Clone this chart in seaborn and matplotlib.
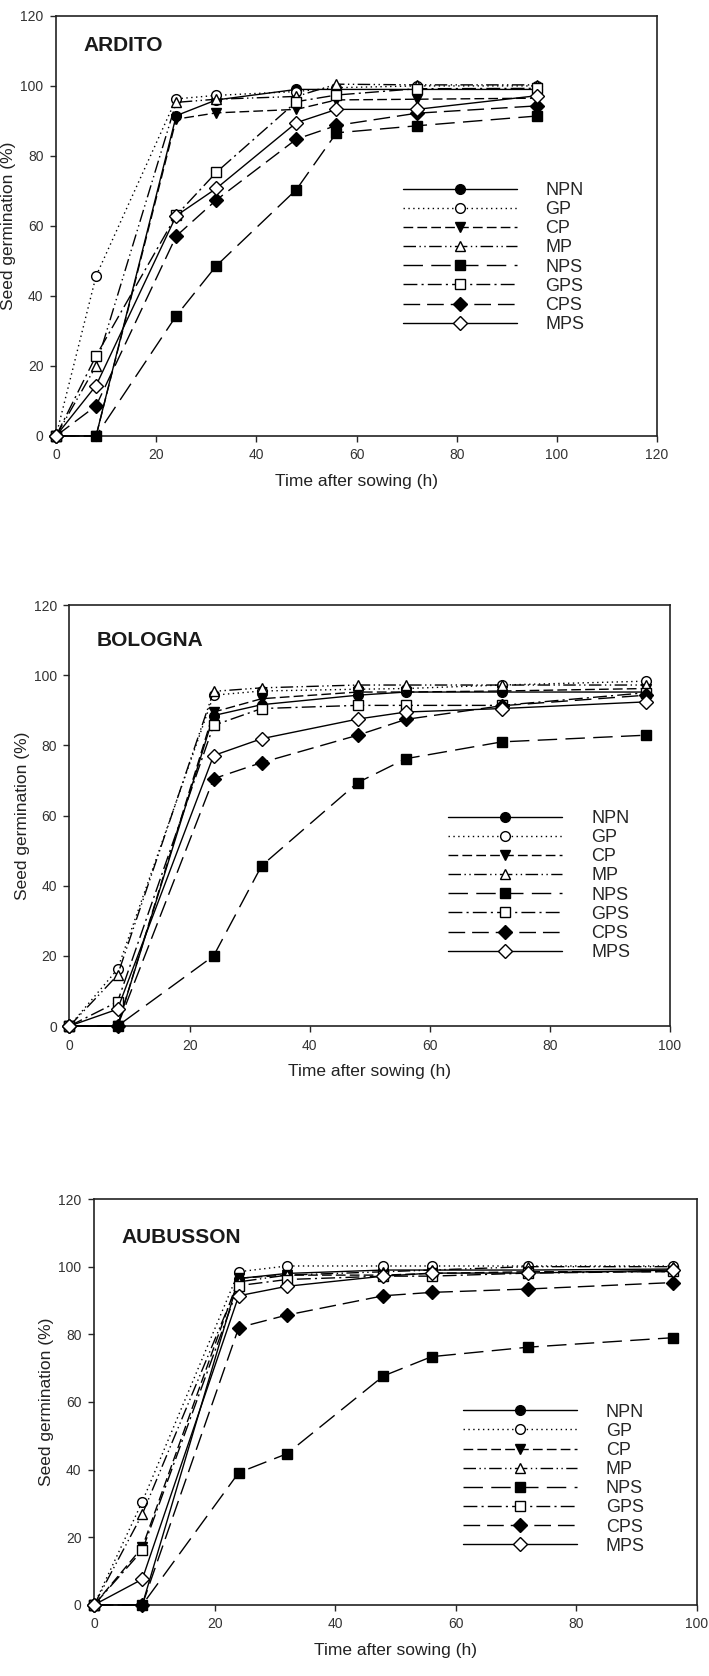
import matplotlib
matplotlib.use("Agg")
import matplotlib.pyplot as plt
import seaborn as sns
import pandas as pd

# sampling times (h)
hours = [0, 8, 24, 32, 48, 56, 72, 96]
treatments = ["NPN", "GP", "CP", "MP", "NPS", "GPS", "CPS", "MPS"]

# seed germination (%) per cultivar
ardito = {
    "NPN": [0, 0, 91.5, 96.0, 99.0, 99.0, 99.0, 99.0],
    "GP":  [0, 45.7, 96.3, 97.3, 98.4, 99.5, 100.0, 100.0],
    "CP":  [0, 0, 90.5, 92.3, 93.3, 96.0, 96.2, 96.5],
    "MP":  [0, 20.0, 95.3, 96.2, 97.0, 100.5, 100.3, 100.3],
    "NPS": [0, 0, 34.3, 48.6, 70.4, 86.6, 88.6, 91.4],
    "GPS": [0, 22.9, 63.0, 75.3, 95.5, 97.4, 99.2, 99.3],
    "CPS": [0, 8.6, 57.1, 67.4, 84.8, 88.7, 92.2, 94.3],
    "MPS": [0, 14.4, 62.9, 70.7, 89.5, 93.3, 93.3, 97.2],
}
bologna = {
    "NPN": [0, 0, 88.5, 91.6, 94.3, 95.2, 95.2, 95.2],
    "GP":  [0, 16.2, 94.3, 95.5, 96.0, 96.2, 97.2, 98.3],
    "CP":  [0, 0, 89.5, 93.3, 95.2, 95.2, 95.5, 96.2],
    "MP":  [0, 14.5, 95.4, 96.4, 97.2, 97.2, 97.2, 97.2],
    "NPS": [0, 0, 20.0, 45.7, 69.4, 76.2, 81.0, 82.9],
    "GPS": [0, 6.9, 85.7, 90.5, 91.4, 91.4, 91.4, 95.0],
    "CPS": [0, 0, 70.5, 75.1, 82.9, 87.4, 91.3, 94.3],
    "MPS": [0, 4.8, 77.1, 81.9, 87.5, 89.5, 90.5, 92.4],
}
aubusson = {
    "NPN": [0, 0, 96.5, 98.0, 99.0, 99.0, 99.0, 99.3],
    "GP":  [0, 30.5, 98.5, 100.2, 100.2, 100.2, 100.2, 100.2],
    "CP":  [0, 17.0, 96.6, 97.5, 97.5, 98.0, 98.5, 98.5],
    "MP":  [0, 26.8, 95.5, 97.5, 98.5, 99.0, 100.0, 100.0],
    "NPS": [0, 0, 39.1, 44.7, 67.7, 73.4, 76.2, 79.0],
    "GPS": [0, 16.1, 94.4, 96.2, 97.2, 97.2, 98.1, 98.6],
    "CPS": [0, 0, 82.0, 85.7, 91.4, 92.4, 93.4, 95.3],
    "MPS": [0, 7.6, 91.4, 94.2, 97.2, 98.1, 98.1, 99.0],
}

# marker / fill / dash style per treatment
styles = {
    "NPN": dict(marker="o", mfc="black", ls="-"),
    "GP":  dict(marker="o", mfc="white", ls=(0, (1, 2.5))),
    "CP":  dict(marker="v", mfc="black", ls=(0, (7, 3))),
    "MP":  dict(marker="^", mfc="white", ls=(0, (9, 2.5, 1, 2.5, 1, 2.5))),
    "NPS": dict(marker="s", mfc="black", ls=(0, (14, 6))),
    "GPS": dict(marker="s", mfc="white", ls=(0, (10, 3, 1.5, 3))),
    "CPS": dict(marker="D", mfc="black", ls=(0, (12, 5))),
    "MPS": dict(marker="D", mfc="white", ls="-"),
}

sns.set_style("ticks")
plt.rcParams["font.family"] = ["Liberation Sans", "DejaVu Sans"]

fig = plt.figure(figsize=(7.09, 16.76), dpi=100)

# name, data, axes rect, x max, legend anchor (center left), title y
panels = [
    ("ARDITO", ardito, [0.079, 0.7399, 0.8477, 0.2506], 120, (0.565, 0.425), 0.929),
    ("BOLOGNA", bologna, [0.098, 0.3878, 0.847, 0.2512], 100, (0.619, 0.334), 0.915),
    ("AUBUSSON", aubusson, [0.1326, 0.0424, 0.8505, 0.2422], 100, (0.60, 0.31), 0.906),
]

for name, data, rect, xmax, leg_pos, title_y in panels:
    ax = fig.add_axes(rect)
    for t in treatments:
        df = pd.DataFrame({"h": hours, "g": data[t]})
        st = styles[t]
        sns.lineplot(data=df, x="h", y="g", ax=ax, color="black", lw=1.0,
                     linestyle=st["ls"], marker=st["marker"], markersize=7,
                     markerfacecolor=st["mfc"], markeredgecolor="black",
                     markeredgewidth=1.0, label=t, clip_on=False, zorder=3)
    ax.set_xlim(0, xmax)
    ax.set_ylim(0, 120)
    ax.set_xticks(range(0, xmax + 1, 20))
    ax.set_yticks(range(0, 121, 20))
    ax.tick_params(direction="out", length=4, width=1, labelsize=10,
                   labelcolor="#333333", pad=5)
    for sp in ax.spines.values():
        sp.set_visible(True)
        sp.set_linewidth(1.2)
        sp.set_color("#222222")
    ax.set_xlabel("Time after sowing (h)", fontsize=12.5, color="#222222", labelpad=8)
    ax.set_ylabel("Seed germination (%)", fontsize=12.5, color="#222222", labelpad=3)
    ax.text(0.045, title_y, name, transform=ax.transAxes, fontsize=15,
            fontweight="bold", color="#1a1a1a", va="center", ha="left")
    ax.legend(loc="center left", bbox_to_anchor=leg_pos,
              frameon=False, fontsize=13, handlelength=6.3, handletextpad=1.6,
              labelspacing=0.12, numpoints=1, borderaxespad=0)

fig.savefig("out.png", dpi=100)
